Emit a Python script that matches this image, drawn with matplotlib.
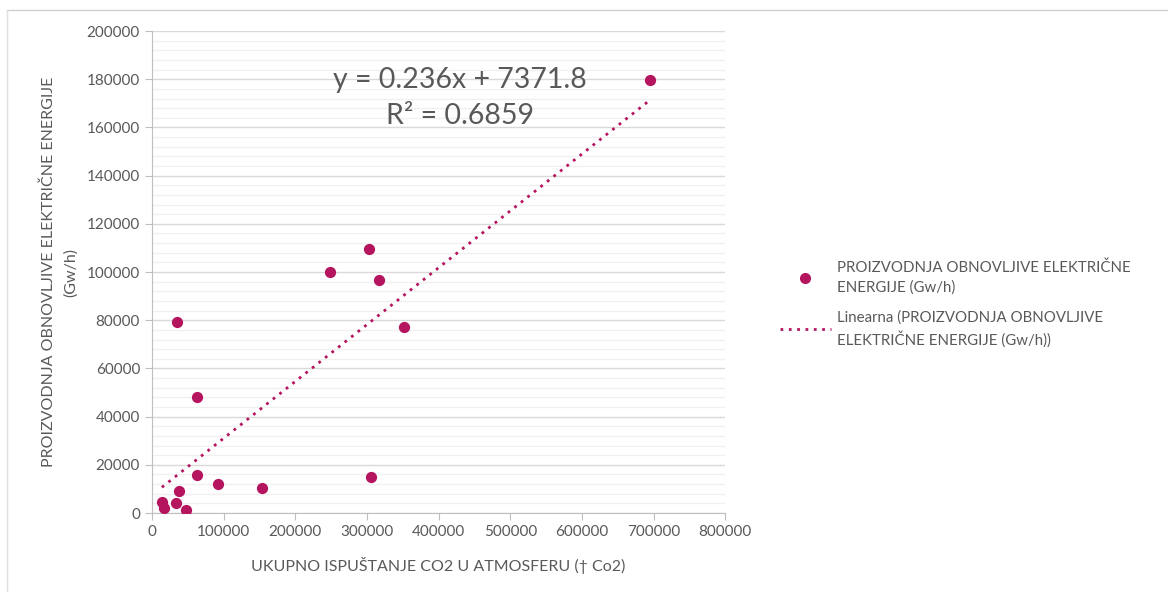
import numpy as np
import matplotlib.pyplot as plt
from matplotlib.ticker import MultipleLocator
from matplotlib.lines import Line2D

plt.rcParams['font.family'] = ['Lato', 'DejaVu Sans']

# Ukupno ispustanje CO2 (t) i proizvodnja obnovljive energije (Gw/h)
co2 = [14000, 16800, 33500, 37700, 47500, 62800, 92000, 153600, 305900,
       35000, 62800, 248600, 303000, 317000, 352000, 695500]
energija = [4500, 2000, 4000, 9100, 1200, 15800, 12000, 10400, 15000,
            79300, 48100, 100000, 109500, 96700, 77200, 179700]

# Linearni trend (iz Excel grafikona)
nagib = 0.236
odsjecak = 7371.8
r2 = 0.6859

boja = '#B5145F'
siva = '#595959'

fig = plt.figure(figsize=(11.68, 5.92), dpi=100)
ax = fig.add_axes([0.130, 0.1334, 0.491, 0.8142])

ax.scatter(co2, energija, s=50, color=boja, zorder=3)
x_trend = np.array([min(co2), max(co2)])
ax.plot(x_trend, nagib * x_trend + odsjecak, color=boja, linestyle=(0, (1, 2)),
        linewidth=2, zorder=2)

ax.set_xlim(0, 800000)
ax.set_ylim(0, 200000)
ax.xaxis.set_major_locator(MultipleLocator(100000))
ax.yaxis.set_major_locator(MultipleLocator(20000))
ax.yaxis.set_minor_locator(MultipleLocator(4000))
ax.grid(axis='y', which='major', color='#d9d9d9', linewidth=1)
ax.grid(axis='y', which='minor', color='#f0f0f0', linewidth=1)
ax.set_axisbelow(True)

for s in ['top', 'right']:
    ax.spines[s].set_visible(False)
for s in ['left', 'bottom']:
    ax.spines[s].set_color('#bfbfbf')
ax.tick_params(axis='both', which='major', colors='#bfbfbf', labelcolor=siva,
               labelsize=11, length=5, direction='out')
ax.tick_params(axis='y', which='minor', length=0)

ax.set_xlabel('UKUPNO ISPUŠTANJE CO2 U ATMOSFERU († Co2)', fontsize=11.5,
              color=siva, labelpad=13)
ax.set_ylabel('PROIZVODNJA OBNOVLJIVE ELEKTRIČNE ENERGIJE\n(Gw/h)', fontsize=11.5,
              color=siva, labelpad=6, linespacing=1.75)

ax.text(430000, 172300, f'y = {nagib}x + {odsjecak}\nR² = {r2}',
        ha='center', va='center', fontsize=20.5, color=siva, linespacing=1.45)

handles = [
    Line2D([], [], marker='o', linestyle='none', color=boja, markersize=7),
    Line2D([], [], color=boja, linestyle=(0, (1, 2)), linewidth=2),
]
labels = ['PROIZVODNJA OBNOVLJIVE ELEKTRIČNE\nENERGIJE (Gw/h)',
          'Linearna (PROIZVODNJA OBNOVLJIVE\nELEKTRIČNE ENERGIJE (Gw/h))']
leg = fig.legend(handles, labels, loc='upper left', bbox_to_anchor=(0.656, 0.582),
                 frameon=False, fontsize=10.8, handlelength=3.4, handletextpad=0.45,
                 labelspacing=1.0)
for t in leg.get_texts():
    t.set_color(siva)
    t.set_linespacing(1.45)

# okvir grafikona (gornji i lijevi rub)
fig.add_artist(Line2D([0.006, 1.0], [0.983, 0.983], color='#d0d0d0', linewidth=1))
fig.add_artist(Line2D([0.006, 0.006], [0.0, 0.983], color='#e0e0e0', linewidth=1))

fig.savefig('out.png', dpi=100)
